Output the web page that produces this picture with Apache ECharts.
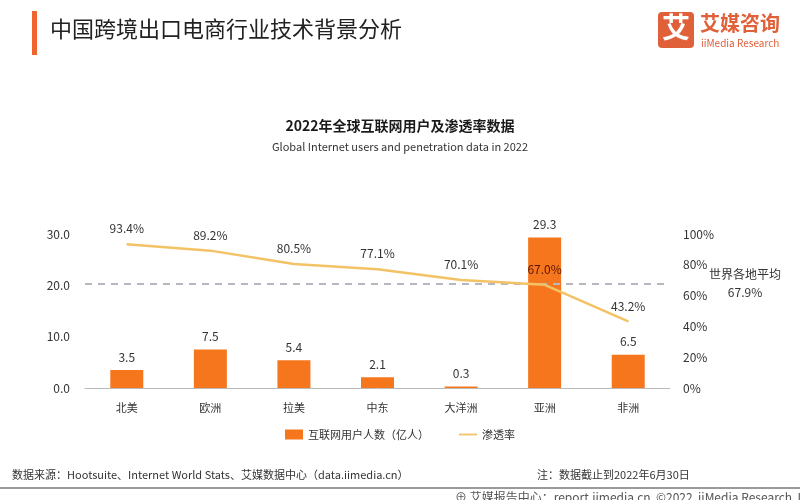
<!DOCTYPE html>
<html>
<head>
<meta charset="utf-8">
<script src="https://cdn.jsdelivr.net/npm/echarts@6/dist/echarts.min.js"></script>
<style>html,body{margin:0;padding:0;background:#fff;}#c{width:800px;height:500px;}</style>
</head>
<body>
<div id="c"></div>
<script>
var categories = ['北美', '欧洲', '拉美', '中东', '大洋洲', '亚洲', '非洲'];
var users = [3.5, 7.5, 5.4, 2.1, 0.3, 29.3, 6.5];
var penetration = [93.4, 89.2, 80.5, 77.1, 70.1, 67.0, 43.2];
var worldAverage = 67.9;
var leftTicks = [0, 10, 20, 30];
var rightTicks = [0, 20, 40, 60, 80, 100];

var FONT = '"Noto Sans CJK SC", "Noto Sans", sans-serif';
var chart = echarts.init(document.getElementById('c'), null, {renderer: 'canvas'});
var option = {
  backgroundColor: '#ffffff',
  textStyle: {fontFamily: FONT},
  animation: false,
  title: {
    text: '2022年全球互联网用户及渗透率数据',
    subtext: 'Global Internet users and penetration data in 2022',
    left: 'center',
    top: 114,
    itemGap: 8,
    textStyle: {fontFamily: FONT, fontSize: 14, fontWeight: 'bold', color: '#1a1a1a'},
    subtextStyle: {fontFamily: FONT, fontSize: 11, color: '#333'}
  },
  legend: {
    top: 424,
    left: 'center',
    itemWidth: 18,
    itemHeight: 10,
    itemGap: 30,
    textStyle: {fontFamily: FONT, fontSize: 11, color: '#333'},
    data: [{name: '互联网用户人数（亿人）', icon: 'rect'}, {name: '渗透率', icon: 'path://M0,4 L20,4 L20,6 L0,6 Z', itemStyle: {color: '#F3C265'}}]
  },
  grid: {left: 85, right: 130, top: 234, bottom: 112},
  xAxis: {
    type: 'category',
    data: categories,
    axisLine: {lineStyle: {color: '#bbbbbb', width: 1}},
    axisTick: {show: false},
    axisLabel: {fontFamily: FONT, fontSize: 11, color: '#333', margin: 14}
  },
  yAxis: [{
    type: 'value', min: leftTicks[0], max: leftTicks[leftTicks.length - 1], interval: 10,
    splitLine: {show: false}, axisLine: {show: false}, axisTick: {show: false},
    axisLabel: {fontFamily: FONT, fontSize: 12, color: '#333', margin: 15,
      formatter: function (v) { return v.toFixed(1); }}
  }, {
    type: 'value', min: rightTicks[0], max: rightTicks[rightTicks.length - 1], interval: 20,
    splitLine: {show: false}, axisLine: {show: false}, axisTick: {show: false},
    axisLabel: {fontFamily: FONT, fontSize: 12, color: '#333', margin: 13, formatter: '{value}%'}
  }],
  series: [{
    name: '互联网用户人数（亿人）',
    type: 'bar',
    data: users,
    barWidth: 33,
    itemStyle: {color: '#F5761D'},
    label: {show: true, position: 'top', distance: 7, fontFamily: FONT, fontSize: 12, color: '#333',
      formatter: function (p) { return p.value.toFixed(1); }}
  }, {
    name: '渗透率',
    type: 'line',
    yAxisIndex: 1,
    data: penetration.map(function (v, i) {
      return i === 5 ? {value: v, label: {color: '#5a1500'}} : v;
    }),
    symbol: 'circle',
    symbolSize: 1,
    showSymbol: true,
    lineStyle: {color: '#F3C265', width: 2.5},
    itemStyle: {color: '#F3C265'},
    label: {show: true, position: 'top', distance: 9, fontFamily: FONT, fontSize: 12, color: '#333',
      formatter: function (p) { return p.value.toFixed(1) + '%'; }},
    labelLayout: {hideOverlap: false},
    z: 5,
    markLine: {
      silent: true,
      symbol: 'none',
      data: [{yAxis: worldAverage}],
      lineStyle: {color: '#b4b8c0', type: [7, 6], width: 2},
      label: {show: true, position: 'end', distance: 75, fontFamily: FONT, fontSize: 12, color: '#333',
        align: 'center', lineHeight: 18,
        formatter: '世界各地平均\n' + worldAverage.toFixed(1) + '%'}
    }
  }],
  graphic: [
    {type: 'rect', shape: {x: 32, y: 11, width: 5, height: 44}, style: {fill: '#F0642E'}},
    {type: 'text', left: 50, top: 18, style: {text: '中国跨境出口电商行业技术背景分析', font: '22px ' + FONT, fill: '#222'}},
    {type: 'rect', shape: {x: 658, y: 12, width: 36, height: 36, r: 4}, style: {fill: '#E0603A'}},
    {type: 'text', left: 662, top: 13, style: {text: '艾', font: 'bold 28px ' + FONT, fill: '#fff'}},
    {type: 'text', left: 700, top: 13, style: {text: '艾媒咨询', font: 'bold 20px ' + FONT, fill: '#E0603A'}},
    {type: 'text', left: 701, top: 38, style: {text: 'iiMedia Research', font: '10px ' + FONT, fill: '#E0603A'}},
    {type: 'text', left: 12, top: 469, style: {text: '数据来源：Hootsuite、Internet World Stats、艾媒数据中心（data.iimedia.cn）', font: '11px ' + FONT, fill: '#333'}},
    {type: 'text', left: 537, top: 469, style: {text: '注：数据截止到2022年6月30日', font: '11px ' + FONT, fill: '#333'}},
    {type: 'rect', shape: {x: 0, y: 487, width: 800, height: 2}, style: {fill: '#9a9a9a'}},
    {type: 'text', left: 455, top: 491, style: {text: '⊕ 艾媒报告中心：report.iimedia.cn  ©2022  iiMedia Research  Inc', font: '12px ' + FONT, fill: '#555'}}
  ]
};
chart.setOption(option);
</script>
</body>
</html>
